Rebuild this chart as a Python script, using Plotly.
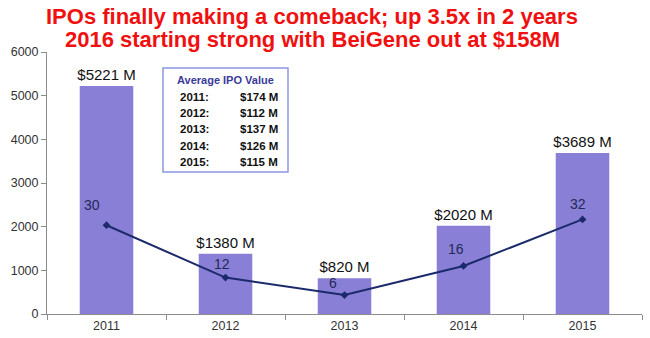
import plotly.graph_objects as go

years = ["2011", "2012", "2013", "2014", "2015"]
ipo_value = [5221, 1380, 820, 2020, 3689]
ipo_count = [30, 12, 6, 16, 32]
avg_ipo_value = [174, 112, 137, 126, 115]
y_ticks = [0, 1000, 2000, 3000, 4000, 5000, 6000]
title_lines = ["IPOs finally making a comeback; up 3.5x in 2 years",
               "2016 starting strong with BeiGene out at $158M"]

FONT = "Liberation Sans, Arial, sans-serif"
BAR_COLOR = "#8A7FD6"
LINE_COLOR = "#1B2A6B"

fig = go.Figure()
fig.add_trace(go.Bar(
    x=years, y=ipo_value,
    marker=dict(color=BAR_COLOR, line=dict(width=0)),
    width=0.45,
    text=[f"${v} M" for v in ipo_value],
    textposition="outside",
    constraintext="none",
    textfont=dict(family=FONT, size=15, color="#111111"),
    cliponaxis=False,
    showlegend=False,
    hoverinfo="skip",
))
fig.add_trace(go.Scatter(
    x=years, y=ipo_count, yaxis="y2",
    mode="lines+markers",
    line=dict(color=LINE_COLOR, width=2),
    marker=dict(symbol="diamond", size=6, color=LINE_COLOR),
    showlegend=False,
    hoverinfo="skip",
))

# count labels (category index used as x position)
offsets = [(-15, 20), (-4, 14), (-12, 12), (-8, 17), (-5, 15)]
for i, (c, (dx, dy)) in enumerate(zip(ipo_count, offsets)):
    fig.add_annotation(x=i, y=c, xref="x", yref="y2", text=str(c),
                       showarrow=False, xshift=dx, yshift=dy,
                       xanchor="center", yanchor="middle",
                       font=dict(family=FONT, size=14, color="#1F2A55"))

# pixel -> paper helpers (plot area: x 47..642, y 52..314)
def px_x(p):
    return (p - 47) / 595.0

def px_y(p):
    return (314 - p) / 262.0

# title
for line, ty in zip(title_lines, [17, 40]):
    fig.add_annotation(xref="paper", yref="paper", x=px_x(312), y=px_y(ty),
                       text=f"<b>{line}</b>", showarrow=False,
                       xanchor="center", yanchor="middle",
                       font=dict(family=FONT, size=22, color="#F01010"))

# inset box
fig.add_shape(type="rect", xref="paper", yref="paper",
              x0=px_x(163), x1=px_x(288), y0=px_y(172), y1=px_y(68),
              line=dict(color="#8C98E0", width=1.5), fillcolor="white")
fig.add_annotation(xref="paper", yref="paper", x=px_x(225), y=px_y(80),
                   text="<b>Average IPO Value</b>", showarrow=False,
                   xanchor="center", yanchor="middle",
                   font=dict(family=FONT, size=11, color="#3A3A9A"))
row_y = [97, 113, 129, 146, 162]
for yr, v, ry in zip(years, avg_ipo_value, row_y):
    fig.add_annotation(xref="paper", yref="paper", x=px_x(178), y=px_y(ry),
                       xanchor="left", yanchor="middle", text=f"<b>{yr}:</b>",
                       showarrow=False,
                       font=dict(family=FONT, size=11.5, color="#111111"))
    fig.add_annotation(xref="paper", yref="paper", x=px_x(280), y=px_y(ry),
                       xanchor="right", yanchor="middle", text=f"<b>${v} M</b>",
                       showarrow=False,
                       font=dict(family=FONT, size=11.5, color="#111111"))

fig.update_layout(
    width=650, height=338,
    margin=dict(l=47, r=8, t=52, b=24),
    paper_bgcolor="white", plot_bgcolor="white",
    xaxis=dict(
        type="category", range=[-0.5, 4.5], automargin=False, tickangle=0,
        showline=True, linecolor="#8C8C8C", linewidth=1,
        ticks="outside", tickson="boundaries", ticklen=5, tickcolor="#8C8C8C",
        tickfont=dict(family=FONT, size=12.5, color="#333333"),
        showgrid=False, zeroline=False,
    ),
    yaxis=dict(
        range=[0, 6000], tickvals=y_ticks, automargin=False,
        showline=True, linecolor="#8C8C8C", linewidth=1,
        ticks="outside", ticklen=5, tickcolor="#8C8C8C",
        tickfont=dict(family=FONT, size=12.5, color="#333333"),
        showgrid=False, zeroline=False,
    ),
    yaxis2=dict(
        overlaying="y", range=[-0.5, 89.5], visible=False,
        showgrid=False, zeroline=False,
    ),
)

fig.write_html("out.html")
